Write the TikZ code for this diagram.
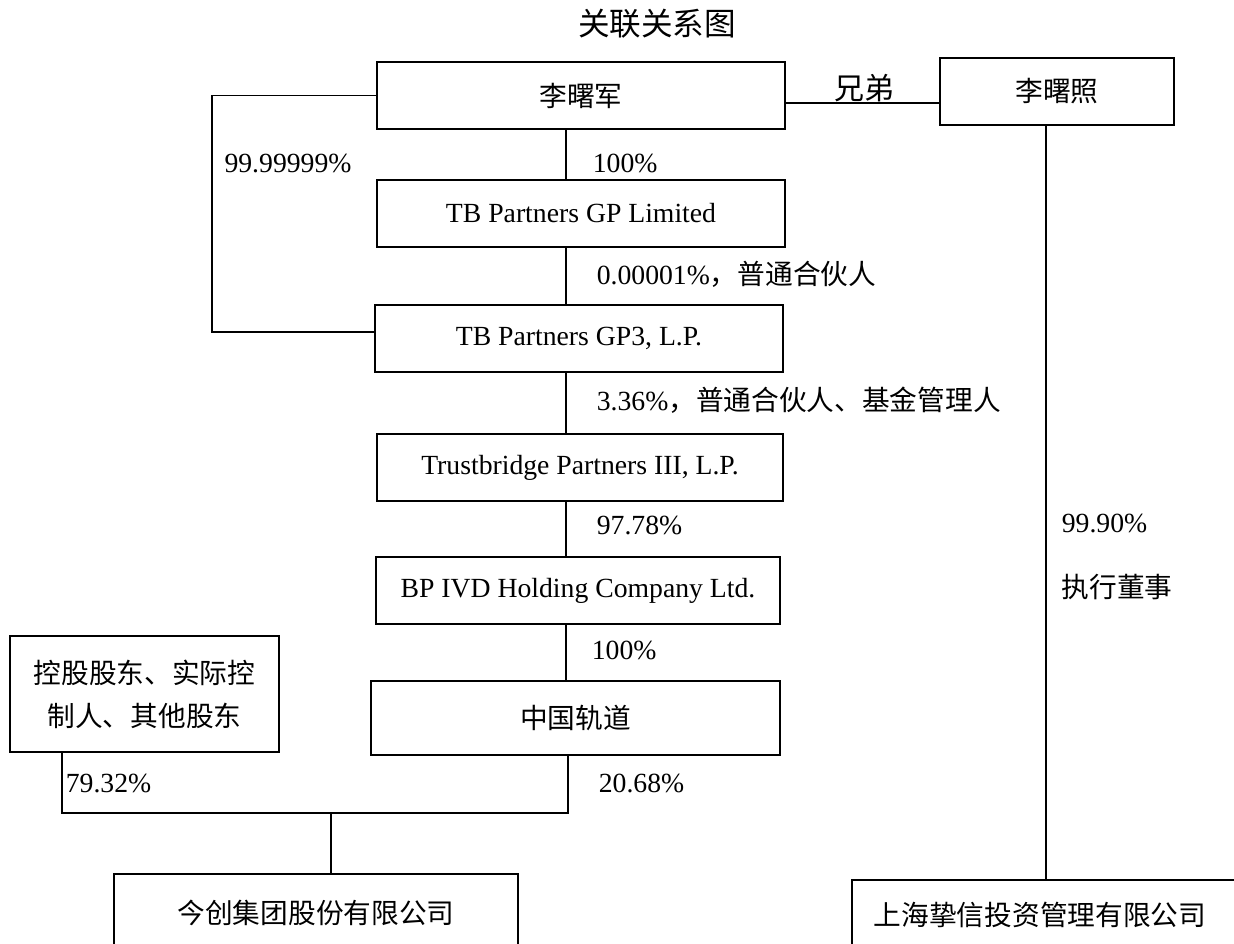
\documentclass[tikz,border=0pt]{standalone}
\usepackage{fontspec}
\setmainfont{Liberation Serif}
\newfontfamily\cjk{Noto Sans CJK SC}
\begin{document}
\begin{tikzpicture}[x=1pt, y=-1pt, line width=1.6pt,
    box/.style = {draw, inner sep=0pt, align=center, font=\fontsize{27.7}{43}\selectfont},
    lbl/.style = {inner sep=0pt, anchor=west, font=\fontsize{27.7}{33}\selectfont}]
    \useasboundingbox (0,0) rectangle (1234,944);
    \node (0) at (657,24) {\fontsize{31.6}{38}\selectfont\cjk 关联关系图};
    \node[box, minimum width=408, minimum height=67] (1) at (581,95.5) {\cjk 李曙军};
    \node[box, minimum width=234, minimum height=67] (2) at (1057,91.5) {\cjk 李曙照};
    \node[box, minimum width=408, minimum height=67] (3) at (581,213.5) {TB Partners GP Limited};
    \node[box, minimum width=408, minimum height=67] (4) at (579,338.5) {TB Partners GP3, L.P.};
    \node[box, minimum width=406, minimum height=67] (5) at (580,467.5) {Trustbridge Partners III, L.P.};
    \node[box, minimum width=404, minimum height=67] (6) at (578,590.5) {BP IVD Holding Company Ltd.};
    \node[box, minimum width=409, minimum height=74] (7) at (575.5,718) {\cjk 中国轨道};
    \node[box, minimum width=269, minimum height=116] (8) at (144.5,694) {\cjk 控股股东、实际控\\\cjk 制人、其他股东};
    \node[box, minimum width=404, minimum height=78] (9) at (316,913) {\cjk 今创集团股份有限公司};
    \node[box, minimum height=70, text width=356, inner xsep=22, align=left, anchor=west] (10) at (851,915) {\cjk 上海挚信投资管理有限公司};
    \node[font=\fontsize{30}{36}\selectfont] (11) at (864.5,88) {\cjk 兄弟};
    \node[lbl, anchor=center] (12) at (288,163) {99.99999\%};
    \node[lbl] (13) at (592,163) {100\%};
    \node[lbl] (14) at (596,274) {0.00001\%{\cjk ，普通合伙人}};
    \node[lbl] (15) at (596,400) {3.36\%{\cjk ，普通合伙人、基金管理人}};
    \node[lbl] (16) at (596,525) {97.78\%};
    \node[lbl] (17) at (591,650) {100\%};
    \node[lbl] (18) at (65,783) {79.32\%};
    \node[lbl] (19) at (598,783) {20.68\%};
    \node[lbl] (20) at (1061,523) {99.90\%};
    \node[lbl] (21) at (1061,587) {\cjk 执行董事};
    \coordinate (s) at (566,0);
    \coordinate (b) at (0,103);
    \coordinate (k) at (212,332);
    \coordinate (z) at (1046,0);
    \coordinate (l) at (62,813);
    \coordinate (r) at (568,813);
    \coordinate (m) at (331,813);
    \draw (1.south -| s) -- (3.north -| s) (3.south -| s) -- (4.north -| s)
          (4.south -| s) -- (5.north -| s) (5.south -| s) -- (6.north -| s)
          (6.south -| s) -- (7.north -| s);
    \draw (1.east |- b) -- (2.west |- b);
    \draw (1.west) -| (k) -- (4.west |- k);
    \draw (2.south -| z) -- (10.north -| z);
    \draw (8.south -| l) -- (l) -- (r) -- (7.south -| r);
    \draw (m) -- (9.north -| m);
\end{tikzpicture}
\end{document}
